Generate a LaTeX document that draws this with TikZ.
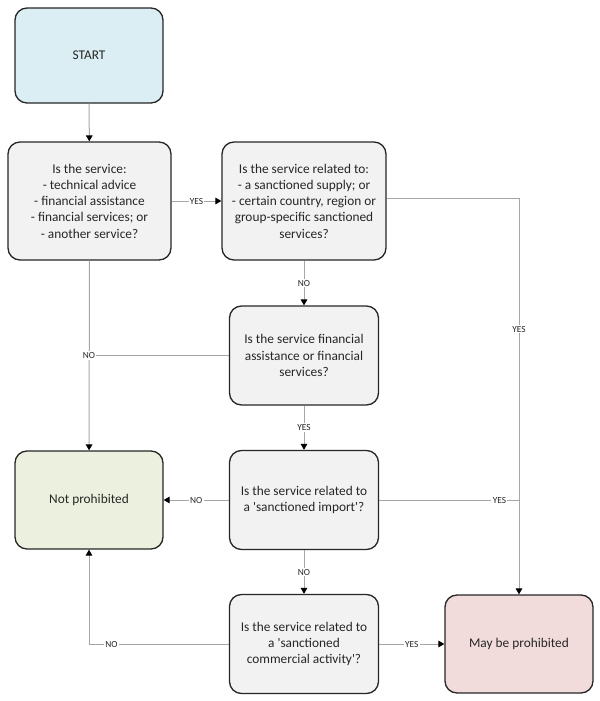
\documentclass[tikz,border=0pt]{standalone}
\usepackage{fontspec}
\setmainfont{Carlito}
\usepackage{tikz}
\usetikzlibrary{arrows.meta,calc}
\usepackage{xcolor}
\definecolor{BoxLine} {RGB}{38,  38,  38}
\definecolor{ConnG}   {RGB}{166,166, 166}
\definecolor{StartB}  {RGB}{219,238, 243}
\definecolor{QGrey}   {RGB}{242,242, 242}
\definecolor{OkGreen} {RGB}{235,241, 222}
\definecolor{MayRed}  {RGB}{242,220, 219}
\newcommand{\sq}{\textquotesingle}
\tikzset{
  box/.style={draw=BoxLine,line width=1pt,rounded corners=9pt,align=center,
    text=BoxLine,font=\fontsize{10}{12.2}\selectfont,inner sep=2pt},
  qbox/.style={box,fill=QGrey,minimum width=111.75pt,minimum height=74.25pt},
  conn/.style={draw=ConnG,line width=0.75pt},
  arr/.style={conn,-{Triangle[length=4.5pt,width=5pt,color=black]}},
  lbl/.style={fill=white,inner sep=1pt,text=BoxLine,font=\fontsize{7}{8}\selectfont}
}
\begin{document}
\begin{tikzpicture}[x=0.75pt,y=-0.75pt]
        \useasboundingbox (0,0) rectangle (600,701);
        % boxes
        \node[box,fill=StartB,minimum width=111pt,minimum height=71.25pt]
          (start) at (89,55.5) {START};
        \node[box,fill=QGrey,minimum width=122.25pt,minimum height=88.5pt]
          (q1) at (89.5,201) {Is the service:\\- technical advice\\- financial assistance\\
          - financial services; or\\- another service?};
        \node[box,fill=QGrey,minimum width=123pt,minimum height=88.5pt]
          (q2) at (304,201) {Is the service related to:\\- a sanctioned supply; or\\
          - certain country, region or\\group-specific sanctioned\\services?};
        \node[qbox] (q3) at (304,355.5) {Is the service financial\\assistance or financial\\services?};
        \node[qbox] (q4) at (304,500) {Is the service related to\\a \sq sanctioned import\sq?};
        \node[qbox] (q5) at (304,644) {Is the service related to\\a \sq sanctioned\\
          commercial activity\sq?};
        \node[box,fill=OkGreen,minimum width=111pt,minimum height=73.5pt]
          (notp) at (89,500) {Not prohibited};
        \node[box,fill=MayRed,minimum width=111pt,minimum height=73.5pt]
          (mayp) at (519,644) {May be prohibited};
        % connectors
        \draw[arr] (start) -- (q1);
        \draw[arr] (q1) -- node[lbl]{YES} (q2);
        \draw[arr] ([yshift=2pt]q2.east) -- ([yshift=2pt]q2.east -| mayp.north)
          -- node[lbl,pos=0.33]{YES} (mayp.north);
        \draw[arr] (q2) -- node[lbl]{NO} (q3);
        \draw[arr] (q1) -- (notp);
        \draw[conn] (q3.west) -- (q3.west -| notp.north) node[lbl]{NO};
        \draw[arr] (q3) -- node[lbl]{YES} (q4);
        \draw[arr] (q4) -- node[lbl]{NO} (notp);
        \draw[conn] (q4.east) -- node[lbl,pos=0.86]{YES} (q4.east -| mayp.north);
        \draw[arr] (q4) -- node[lbl]{NO} (q5);
        \draw[arr] (q5.west) -- node[lbl,pos=0.84]{NO} (q5.west -| notp.south)
          -- (notp.south);
        \draw[arr] (q5) -- node[lbl]{YES} (mayp);
      \end{tikzpicture}
\end{document}
